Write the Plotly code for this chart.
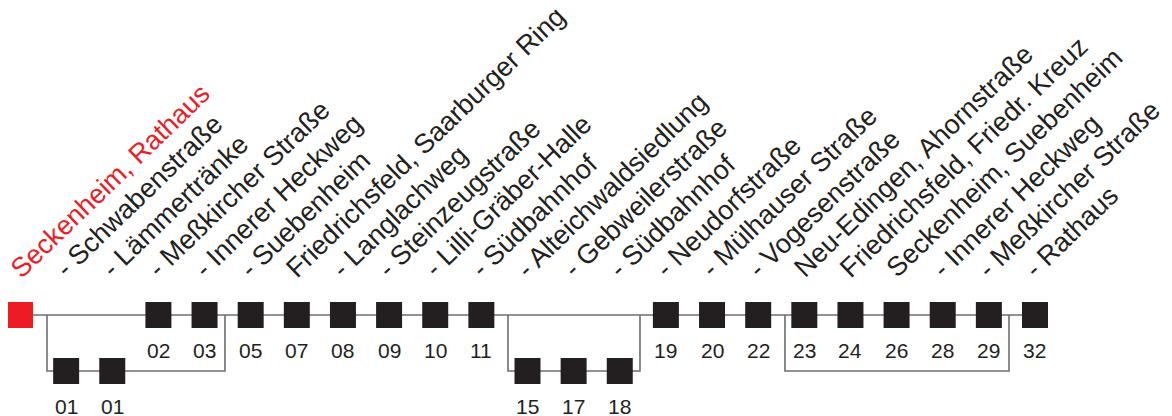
import plotly.graph_objects as go

# ---- data ----
stop_names = [
    "Seckenheim, Rathaus", "- Schwabenstraße", "- Lämmertränke", "- Meßkircher Straße",
    "- Innerer Heckweg", "- Suebenheim", "Friedrichsfeld, Saarburger Ring", "- Langlachweg",
    "- Steinzeugstraße", "- Lilli-Gräber-Halle", "- Südbahnhof", "- Alteichwaldsiedlung",
    "- Gebweilerstraße", "- Südbahnhof", "- Neudorfstraße", "- Mülhauser Straße",
    "- Vogesenstraße", "Neu-Edingen, Ahornstraße", "Friedrichsfeld, Friedr. Kreuz",
    "Seckenheim, Suebenheim", "- Innerer Heckweg", "- Meßkircher Straße", "- Rathaus",
]
stop_codes = ["", "01", "01", "02", "03", "05", "07", "08", "09", "10", "11",
              "15", "17", "18", "19", "20", "22", "23", "24", "26", "28", "29", "32"]
stop_level = [0, -1, -1, 0, 0, 0, 0, 0, 0, 0, 0, -1, -1, -1, 0, 0, 0, 0, 0, 0, 0, 0, 0]
start_stop = [0]  # highlighted (red) terminus

# detour loops below the main line: (left x, right x) in stop-index units
loop_left = [0.585, 10.577, 16.581]
loop_right = [4.443, 13.438, 21.437]

BLACK = "#231f20"
RED = "#ed1c24"
LINE = "#6d6e71"
FONT = "Liberation Sans, Arial, Helvetica, sans-serif"

n = len(stop_names)
idx = list(range(n))

fig = go.Figure()

# main line
fig.add_trace(go.Scatter(x=[idx[0], idx[-1]], y=[0, 0], mode="lines",
                         line=dict(color=LINE, width=1.6), hoverinfo="skip"))
# loops
for a, b in zip(loop_left, loop_right):
    fig.add_trace(go.Scatter(x=[a, a, b, b], y=[0, -1, -1, 0], mode="lines",
                             line=dict(color=LINE, width=1.6), hoverinfo="skip"))

# stops
colors = [RED if i in start_stop else BLACK for i in idx]
fig.add_trace(go.Scatter(x=idx, y=stop_level, mode="markers",
                         marker=dict(symbol="square", size=26, color=colors,
                                     line=dict(width=0)),
                         hovertext=stop_names, hoverinfo="text"))

annotations = []
for i in idx:
    annotations.append(dict(
        x=i, y=0, xref="x", yref="y", text=stop_names[i], showarrow=False,
        textangle=-44, xanchor="left", yanchor="bottom",
        xshift=-18 if i in start_stop else -19, yshift=29,
        font=dict(family=FONT, size=27, color=RED if i in start_stop else BLACK)))
    if stop_codes[i]:
        annotations.append(dict(
            x=i, y=stop_level[i], xref="x", yref="y", text=stop_codes[i],
            showarrow=False, xanchor="center", yanchor="middle", yshift=-35,
            font=dict(family=FONT, size=21, color=BLACK)))

# page body has an 8px margin: figure is 1164x408 placed at (8, 8)
W, H = 1164, 408
step = 46.136
x0 = -12 / step
x1 = x0 + W / step
ystep = 56.0
y1 = 307 / ystep
y0 = -(H - 307) / ystep

fig.update_layout(
    width=W, height=H, margin=dict(l=0, r=0, t=0, b=0),
    paper_bgcolor="white", plot_bgcolor="white", showlegend=False,
    xaxis=dict(range=[x0, x1], visible=False, fixedrange=True),
    yaxis=dict(range=[y0, y1], visible=False, fixedrange=True),
    annotations=annotations,
)

fig.write_html("out.html")
